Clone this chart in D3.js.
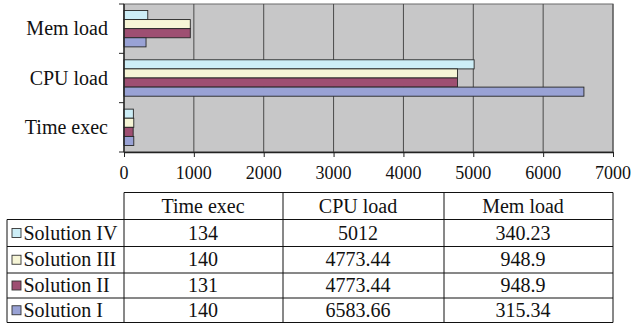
<!DOCTYPE html>
<html>
<head>
<meta charset="utf-8">
<script src="https://cdn.jsdelivr.net/npm/d3@7"></script>
</head>
<body style="margin:0">
<svg id="chart" width="635" height="325"></svg>
<script>
const FONT = '"Liberation Serif"';

// Categories (top to bottom in the plot)
const categories = ["Mem load", "CPU load", "Time exec"];
// Table column order
const tableColumns = ["Time exec", "CPU load", "Mem load"];
// Series, listed as in the legend table (top row first)
const seriesNames = ["Solution IV", "Solution III", "Solution II", "Solution I"];
const seriesColors = ["#cdeef7", "#f6f5d6", "#9e4f72", "#99a2d5"];
// Values per series
const timeExec = [134, 140, 131, 140];
const cpuLoad = [5012, 4773.44, 4773.44, 6583.66];
const memLoad = [340.23, 948.9, 948.9, 315.34];
const tableText = [
  ["134", "5012", "340.23"],
  ["140", "4773.44", "948.9"],
  ["131", "4773.44", "948.9"],
  ["140", "6583.66", "315.34"]
];
const xTicks = [0, 1000, 2000, 3000, 4000, 5000, 6000, 7000];

const valuesByCategory = {
  "Time exec": timeExec,
  "CPU load": cpuLoad,
  "Mem load": memLoad
};

const svg = d3.select("#chart");

function label(parent, txt, px, py, size, anchor) {
  return parent.append("text")
    .attr("x", px).attr("y", py)
    .attr("text-anchor", anchor || "start")
    .style("font-family", FONT)
    .style("font-size", size + "px")
    .attr("fill", "#111")
    .text(txt);
}

const x = d3.scaleLinear().domain([0, 7000]).range([124, 613]);
const y = d3.scaleBand().domain(categories).range([4, 152]);
const inner = d3.scaleBand().domain(seriesNames).range([0, y.bandwidth()])
  .paddingInner(0).paddingOuter(0.71);

// Plot background
svg.append("rect")
  .attr("x", x(0)).attr("y", y.range()[0])
  .attr("width", x(7000) - x(0)).attr("height", y.range()[1] - y.range()[0])
  .attr("fill", "#c7c7c8")
  .attr("stroke", "#6b6b6b").attr("stroke-width", 1);

// Vertical gridlines
svg.append("g").selectAll("line")
  .data(xTicks.slice(1))
  .join("line")
  .attr("x1", d => x(d)).attr("x2", d => x(d))
  .attr("y1", y.range()[0]).attr("y2", y.range()[1])
  .attr("stroke", "#4a4a4a").attr("stroke-width", 1);

// Bars
const rows = [];
categories.forEach(c => {
  seriesNames.forEach((s, i) => {
    rows.push({ cat: c, series: s, idx: i, value: valuesByCategory[c][i] });
  });
});

svg.append("g").selectAll("rect")
  .data(rows)
  .join("rect")
  .attr("x", x(0))
  .attr("y", d => y(d.cat) + inner(d.series))
  .attr("width", d => x(d.value) - x(0))
  .attr("height", inner.bandwidth())
  .attr("fill", d => seriesColors[d.idx])
  .attr("stroke", "#262626").attr("stroke-width", 0.9);

// X axis line and ticks (labels drawn separately)
const xAxis = d3.axisBottom(x).tickValues(xTicks).tickSize(5).tickSizeOuter(0).tickFormat("");
const gx = svg.append("g").attr("transform", `translate(0,${y.range()[1]})`).call(xAxis);
gx.select(".domain").attr("stroke", "#222").attr("stroke-width", 1.4);
gx.selectAll(".tick line").attr("stroke", "#222");
gx.selectAll(".tick text").remove();
const xLabels = svg.append("g");
xTicks.forEach(t => label(xLabels, d3.format("d")(t), x(t), 179, 18, "middle"));

// Y axis: ticks at category boundaries
const yEdges = categories.map(c => y(c)).concat([y.range()[1]]);
const gy = svg.append("g");
gy.append("line")
  .attr("x1", x(0)).attr("x2", x(0))
  .attr("y1", y.range()[0]).attr("y2", y.range()[1])
  .attr("stroke", "#222").attr("stroke-width", 1.4);
gy.selectAll("line.tk")
  .data(yEdges)
  .join("line").attr("class", "tk")
  .attr("x1", x(0) - 5).attr("x2", x(0))
  .attr("y1", d => d).attr("y2", d => d)
  .attr("stroke", "#222").attr("stroke-width", 1);
categories.forEach(c => label(gy, c, 108, y(c) + y.bandwidth() / 2 + 6.5, 20, "end"));

// Data table
const colEdges = [124, 283, 444, 613];
const colCenters = [203, 358, 523];
const rowEdges = [192.5, 219.5, 246.5, 273, 298, 322.5];
const legendLeft = 7;

const table = svg.append("g");
const lineColor = "#111";

// Horizontal rules
rowEdges.forEach((ry, i) => {
  table.append("line")
    .attr("x1", i === 0 ? colEdges[0] : legendLeft)
    .attr("x2", colEdges[colEdges.length - 1])
    .attr("y1", ry).attr("y2", ry)
    .attr("stroke", lineColor).attr("stroke-width", 1);
});
// Vertical rules
colEdges.forEach(cx => {
  table.append("line")
    .attr("x1", cx).attr("x2", cx)
    .attr("y1", rowEdges[0]).attr("y2", rowEdges[rowEdges.length - 1])
    .attr("stroke", lineColor).attr("stroke-width", 1);
});
table.append("line")
  .attr("x1", legendLeft).attr("x2", legendLeft)
  .attr("y1", rowEdges[1]).attr("y2", rowEdges[rowEdges.length - 1])
  .attr("stroke", lineColor).attr("stroke-width", 1);

// Header labels
tableColumns.forEach((c, i) => label(table, c, colCenters[i], (rowEdges[0] + rowEdges[1]) / 2 + 6.5, 20, "middle"));

// Body rows
seriesNames.forEach((s, r) => {
  const cy = (rowEdges[r + 1] + rowEdges[r + 2]) / 2;
  table.append("rect")
    .attr("x", 12).attr("y", cy - 4.5)
    .attr("width", 9).attr("height", 9)
    .attr("fill", seriesColors[r])
    .attr("stroke", "#333").attr("stroke-width", 0.9);
  label(table, s, 23.5, cy + 6.5, 20, "start");
  tableText[r].forEach((t, c) => label(table, t, colCenters[c], cy + 6.5, 20, "middle"));
});
</script>
</body>
</html>
